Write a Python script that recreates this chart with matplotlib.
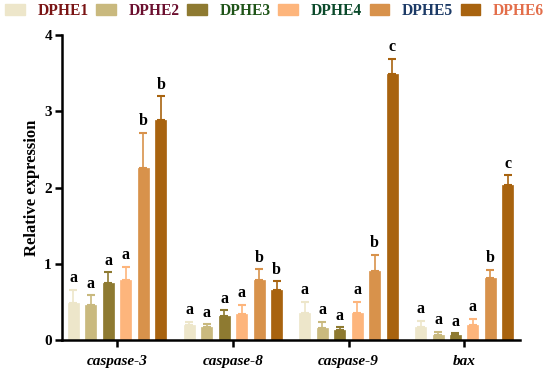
import matplotlib
matplotlib.use("Agg")
import matplotlib.pyplot as plt
from matplotlib.patches import Patch
import numpy as np

genes = ["caspase-3", "caspase-8", "caspase-9", "bax"]
groups = ["DPHE1", "DPHE2", "DPHE3", "DPHE4", "DPHE5", "DPHE6"]
values = {
    "DPHE1": [0.48, 0.19, 0.35, 0.17],
    "DPHE2": [0.46, 0.17, 0.16, 0.07],
    "DPHE3": [0.75, 0.31, 0.13, 0.06],
    "DPHE4": [0.79, 0.34, 0.35, 0.20],
    "DPHE5": [2.26, 0.79, 0.91, 0.81],
    "DPHE6": [2.89, 0.66, 3.49, 2.03],
}
errors = {
    "DPHE1": [0.18, 0.05, 0.15, 0.08],
    "DPHE2": [0.13, 0.04, 0.08, 0.04],
    "DPHE3": [0.14, 0.08, 0.04, 0.03],
    "DPHE4": [0.17, 0.12, 0.15, 0.08],
    "DPHE5": [0.46, 0.14, 0.21, 0.11],
    "DPHE6": [0.31, 0.11, 0.20, 0.13],
}
letters = {
    "DPHE1": ["a", "a", "a", "a"],
    "DPHE2": ["a", "a", "a", "a"],
    "DPHE3": ["a", "a", "a", "a"],
    "DPHE4": ["a", "a", "a", "a"],
    "DPHE5": ["b", "b", "b", "b"],
    "DPHE6": ["b", "b", "c", "c"],
}
bar_colors = ["#EDE6CA", "#C9B97E", "#8E7A31", "#FDB57C", "#D8924B", "#A8630F"]
label_colors = ["#7A1414", "#6B0F2E", "#1F5418", "#0B4A2B", "#1C3A66", "#E36E4A"]

plt.rcParams["font.family"] = ["Liberation Serif", "DejaVu Serif"]
plt.rcParams["font.weight"] = "bold"

fig = plt.figure(figsize=(5.5, 3.71), dpi=100)
ax = fig.add_axes([0.112, 0.0836, 0.833, 0.822])

x = np.arange(len(genes))
step = 0.151
width = 0.095
for i, g in enumerate(groups):
    pos = x + (i - 2.5) * step
    ax.bar(pos, values[g], width=width, color=bar_colors[i],
           edgecolor=bar_colors[i], linewidth=0.5, zorder=2)
    ax.errorbar(pos, values[g], yerr=[np.zeros(len(genes)), errors[g]],
                fmt="none", ecolor=bar_colors[i], elinewidth=1.2,
                capsize=3, capthick=1.5, zorder=3)
    for p, v, e, l in zip(pos, values[g], errors[g], letters[g]):
        ax.annotate(l, (p, v + e), xytext=(0, 2.5), textcoords="offset points",
                    ha="center", va="bottom", fontsize=11.5, fontweight="bold",
                    color="black")

ax.set_xlim(-0.48, 3.48)
ax.set_ylim(0, 4)
ax.set_yticks([0, 1, 2, 3, 4])
ax.set_xticks(x)
ax.set_xticklabels(genes, fontsize=11, fontweight="bold", fontstyle="italic")
ax.tick_params(axis="y", labelsize=11, length=5, width=1.8, pad=2)
ax.tick_params(axis="x", length=5, width=1.8, pad=6)
ax.set_ylabel("Relative expression", fontsize=12, fontweight="bold", labelpad=3)
for s in ["top", "right"]:
    ax.spines[s].set_visible(False)
for s in ["left", "bottom"]:
    ax.spines[s].set_linewidth(1.8)

handles = [Patch(facecolor=c, edgecolor=c) for c in bar_colors]
leg = fig.legend(handles, groups, loc="upper left", bbox_to_anchor=(0.004, 1.0),
                 ncol=6, frameon=False, handlelength=1.25,
                 handleheight=0.66, handletextpad=0.82, columnspacing=0.5,
                 borderpad=0.2, borderaxespad=0.0,
                 prop={"weight": "bold", "size": 11.2})
for t, c in zip(leg.get_texts(), label_colors):
    t.set_color(c)

fig.savefig("out.png", dpi=100)
